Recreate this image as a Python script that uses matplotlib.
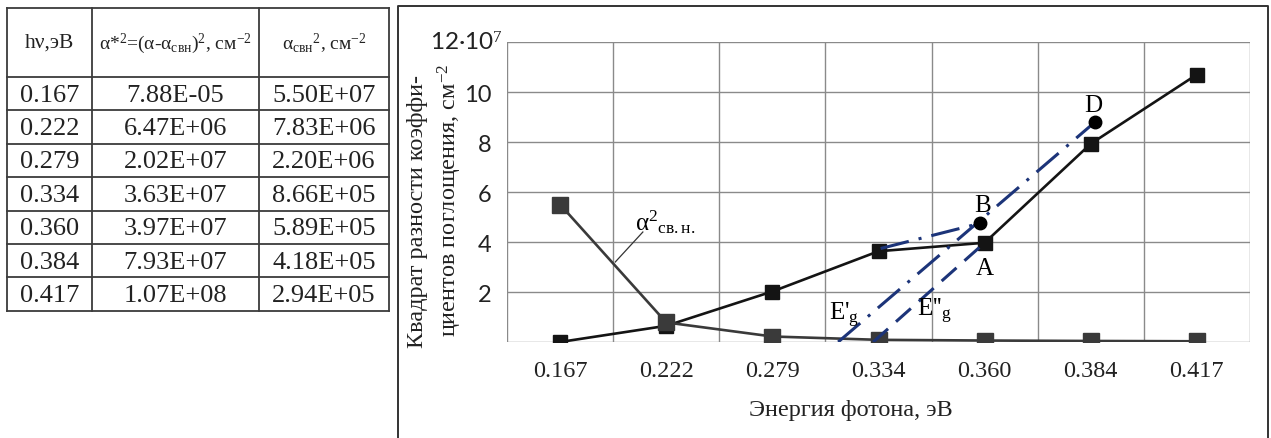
import matplotlib
matplotlib.use("Agg")
import matplotlib.pyplot as plt

plt.rcParams['font.family'] = ['Liberation Serif', 'DejaVu Serif']
plt.rcParams['mathtext.fontset'] = 'custom'
plt.rcParams['mathtext.rm'] = 'Liberation Serif'
plt.rcParams['mathtext.it'] = 'Liberation Serif:italic'
plt.rcParams['mathtext.bf'] = 'Liberation Serif:bold'

# ---------------- data ----------------
hv_labels = ["0.167", "0.222", "0.279", "0.334", "0.360", "0.384", "0.417"]
alpha_star_sq = [7.88e-05, 6.47e+06, 2.02e+07, 3.63e+07, 3.97e+07, 7.93e+07, 1.07e+08]
alpha_svn_sq = [5.50e+07, 7.83e+06, 2.20e+06, 8.66e+05, 5.89e+05, 4.18e+05, 2.94e+05]
y_ticks = [2, 4, 6, 8, 10]
y_scale = 1e7

# construction points (category index, value / 1e7)
point_A = (4.0, 3.97)
point_B = (3.96, 4.75)
point_D = (5.04, 8.8)
tangent_start = (3.02, 3.74)
Eg1_x = 2.62
Eg2_x = 2.95

W, H = 1271, 439
fig = plt.figure(figsize=(W / 100, H / 100), dpi=100)

# background overlay in pixel coords: table + chart frame
bg = fig.add_axes([0, 0, 1, 1], zorder=0)
bg.set_xlim(0, W)
bg.set_ylim(H, 0)
bg.axis('off')

tcol = '#3c3c3c'
col_x = [7, 92, 259, 389]
row_y = [9, 78] + [78 + 33.4 * (i + 1) for i in range(7)]
for xx in col_x:
    bg.plot([xx, xx], [row_y[0], row_y[-1]], color=tcol, lw=1.3)
for yy in row_y:
    bg.plot([col_x[0], col_x[-1]], [yy, yy], color=tcol, lw=1.3)

headers = ["hν,эВ",
           r"α*$^{2}$=(α-α$_{\mathrm{свн}}$)$^{2}$, см$^{-2}$",
           r"α$_{\mathrm{свн}}$$^{2}$, см$^{-2}$"]
hsizes = [15.5, 14, 14]
for j in range(3):
    cx = (col_x[j] + col_x[j + 1]) / 2
    bg.text(cx, (row_y[0] + row_y[1]) / 2, headers[j], ha='center', va='center',
            fontsize=hsizes[j], color='#222222')
for i in range(7):
    cy = (row_y[i + 1] + row_y[i + 2]) / 2 + 1
    vals = [hv_labels[i], f"{alpha_star_sq[i]:.2E}", f"{alpha_svn_sq[i]:.2E}"]
    for j in range(3):
        cx = (col_x[j] + col_x[j + 1]) / 2
        bg.text(cx, cy, vals[j], ha='center', va='center', fontsize=19, color='#222222')

# chart frame
bg.plot([398, 398, 1268, 1268], [445, 7, 7, 445], color='#333333', lw=1.4)

# ---------------- chart ----------------
ax = fig.add_axes([507 / W, 1 - 343 / H, (1250 - 507) / W, (343 - 43) / H], zorder=1)
ax.patch.set_alpha(0)
x = list(range(len(hv_labels)))
ys1 = [v / y_scale for v in alpha_star_sq]
ys2 = [v / y_scale for v in alpha_svn_sq]

ax.set_xlim(-0.5, 6.5)
ax.set_ylim(0, 12)
gcol = '#8a8a8a'
for xv in [i - 0.5 for i in range(8)]:
    ax.axvline(xv, color=gcol, lw=1.0, zorder=1)
for yv in range(0, 13, 2):
    ax.axhline(yv, color=gcol, lw=1.0, zorder=1)
for s in ax.spines.values():
    s.set_visible(False)

ax.plot(x, ys1, color='#141414', lw=1.9, marker='s', ms=9.5, mfc='#141414', mec='#141414', zorder=3)
ax.plot(x, ys2, color='#3a3a3a', lw=1.9, marker='s', ms=11, mfc='#3a3a3a', mec='#3a3a3a', zorder=4)

navy = '#1c3479'
dashdot = (0, (9.5, 3.3, 1, 3.3))
dashed = (0, (6.5, 3.5))
ax.plot([Eg1_x, point_D[0]], [0, point_D[1]], color=navy, lw=2.2, ls=dashdot, zorder=5)
ax.plot([tangent_start[0], point_B[0]], [tangent_start[1], point_B[1]], color=navy, lw=2.2, ls=dashdot, zorder=5)
ax.plot([Eg2_x, point_A[0]], [0, point_A[1]], color=navy, lw=2.2, ls=dashed, zorder=5)
ax.plot([point_B[0], point_D[0]], [point_B[1], point_D[1]], ls='none', marker='o', ms=9,
        color='black', zorder=6)

ax.text(point_B[0] + 0.02, point_B[1] + 0.72, "B", ha='center', va='center', fontsize=18, zorder=7)
ax.text(point_A[0] + 0.0, point_A[1] - 1.0, "A", ha='center', va='center', fontsize=18, zorder=7)
ax.text(point_D[0] - 0.02, point_D[1] + 0.7, "D", ha='center', va='center', fontsize=18, zorder=7)
ax.text(Eg1_x + 0.06, 1.1, r"E'$_{\mathrm{g}}$", ha='center', va='center', fontsize=18, zorder=7)
ax.text(Eg2_x + 0.58, 1.25, r"E''$_{\mathrm{g}}$", ha='center', va='center', fontsize=18, zorder=7)

ax.text(0.71, 4.85, r"α${}^{2}{}_{\mathrm{св.н.}}$", ha='left', va='center', fontsize=18, zorder=7)
ax.plot([0.78, 0.52], [4.4, 3.2], color='#333333', lw=0.9, zorder=7)

ax.set_xticks(x)
ax.set_xticklabels(hv_labels, fontsize=17.5, color='#222222')
ax.set_yticks(y_ticks)
ax.set_yticklabels([str(t) for t in y_ticks], fontsize=17, color='#222222', family='Lato')
ax.tick_params(axis='both', length=0)
ax.tick_params(axis='x', pad=13)
ax.tick_params(axis='y', pad=11)
ax.text(-0.006, 12, r"12·10$^{7}$", transform=ax.get_yaxis_transform(), ha='right', va='center',
        fontsize=17.5, family='Lato', color='#222222')

fig.text(851 / W, 1 - 411 / H, "Энергия фотона, эВ", ha='center', va='center', fontsize=17.5, color='#222222')
fig.text(418 / W, 1 - 212 / H, "Квадрат разности коэффи-", rotation=90, ha='center', va='center',
         fontsize=17.5, color='#222222')
fig.text(450 / W, 1 - 200 / H, "циентов поглощения, см$^{-2}$", rotation=90, ha='center', va='center',
         fontsize=17.5, color='#222222')

fig.savefig("out.png", dpi=100)
